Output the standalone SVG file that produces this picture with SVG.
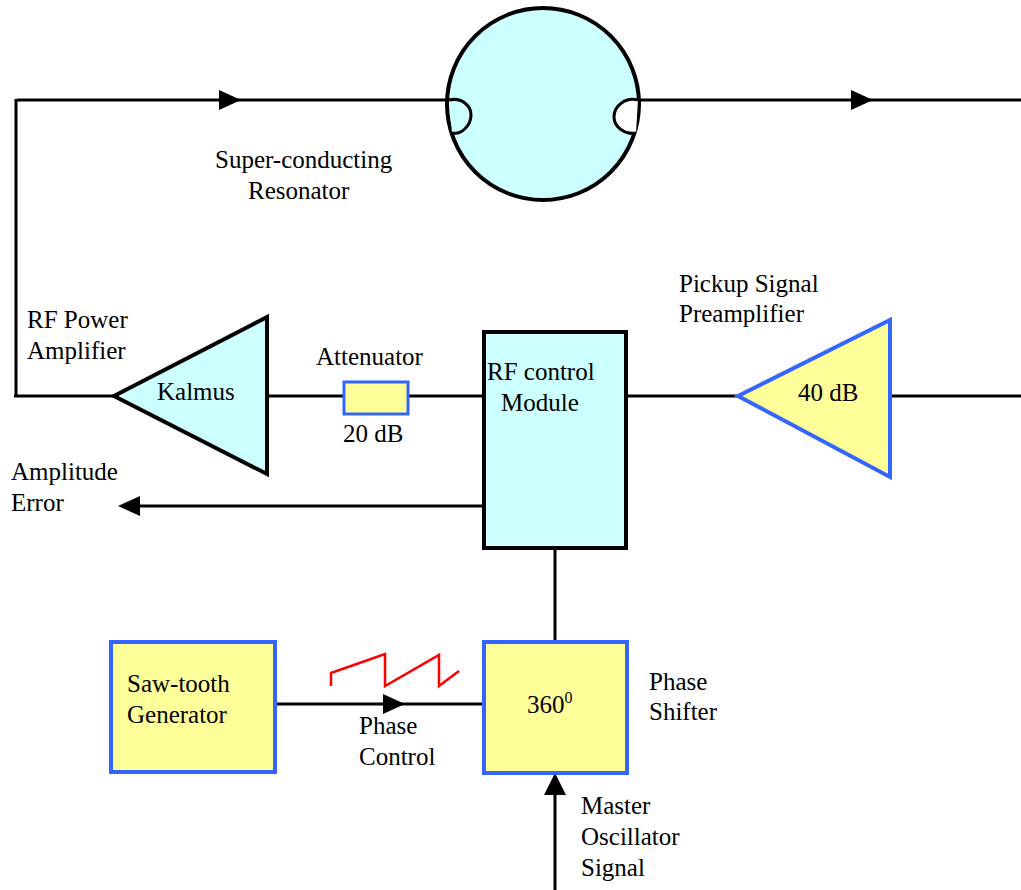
<svg xmlns="http://www.w3.org/2000/svg" width="1021" height="890" viewBox="0 0 1021 890">
<style>
text{font-family:"Liberation Serif","Times New Roman",serif;font-size:25px;fill:#000}
.w{fill:none;stroke:#000;stroke-width:3}
.c{fill:#ccffff}.y{fill:#ffff99}
.b{stroke:#3366ff;stroke-width:4}
.k{stroke:#000;stroke-width:4}
</style>
<rect width="1021" height="890" fill="#fff"/>
<g id="connectors">
<path class="w" d="M1021 100H640M447 100H17M16 99V397M14 396H114M268 396H344M408 396H484M626 396H738M890 396H1021M484 506H140M555 548V642M276 704H484M555 795V890"/>
<path d="M219 90L241 100L219 110ZM851 90L873 100L851 110ZM118 506L140 496V516ZM383 694L405 704L383 714ZM544 795L555 773L566 795Z" fill="#000"/>
<path d="M331 686V673L385 654V686L439 655V686L459 671" fill="none" stroke="#ff0000" stroke-width="2.5"/>
</g>
<g id="resonator">
<circle class="c" cx="543" cy="104" r="96" stroke="#000" stroke-width="4"/>
<path d="M449 100C462 97 471 106 471 115C471 125 462 135 452 133" class="w" fill="#ccffff" style="fill:#ccffff"/>
<path d="M638 100C625 97 614 106 614 117C614 127 625 135 636 133" class="w" style="fill:#fff"/>
</g>
<g id="kalmus"><path class="c k" d="M114 396L267 317V474Z"/><text x="157" y="400">Kalmus</text></g>
<g id="attenuator"><rect class="y b" x="344" y="382" width="64" height="32" style="stroke-width:3"/></g>
<g id="rf-control"><rect class="c k" x="484" y="332" width="142" height="216"/><text x="487" y="380">RF control</text><text x="501" y="411">Module</text></g>
<g id="preamp"><path class="y b" d="M738 396L890 320V477Z"/><text x="798" y="401">40 dB</text></g>
<g id="sawtooth"><rect class="y b" x="111" y="642" width="164" height="130"/><text x="127" y="692">Saw-tooth</text><text x="127" y="723">Generator</text></g>
<g id="shifter"><rect class="y b" x="484" y="642" width="143" height="131"/><text x="527" y="713">360<tspan font-size="16" dy="-10">0</tspan></text></g>
<g id="labels">
<text x="215" y="168">Super-conducting</text><text x="248" y="199">Resonator</text>
<text x="27" y="328">RF Power</text><text x="27" y="359">Amplifier</text>
<text x="316" y="365">Attenuator</text><text x="343" y="442">20 dB</text>
<text x="679" y="292">Pickup Signal</text><text x="679" y="322">Preamplifier</text>
<text x="11" y="480">Amplitude</text><text x="11" y="511">Error</text>
<text x="359" y="734">Phase</text><text x="359" y="765">Control</text>
<text x="649" y="690">Phase</text><text x="649" y="720">Shifter</text>
<text x="581" y="814">Master</text><text x="581" y="845">Oscillator</text><text x="581" y="876">Signal</text>
</g>
</svg>
